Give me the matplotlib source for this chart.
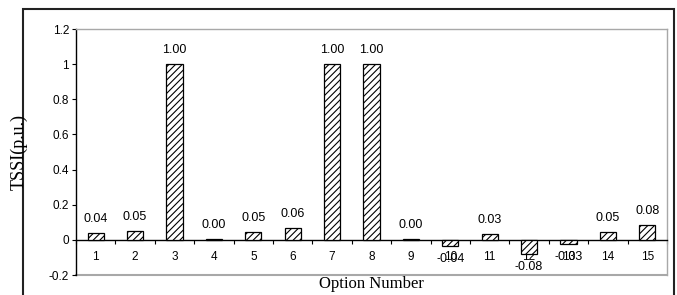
import matplotlib
matplotlib.use("Agg")
import matplotlib.pyplot as plt
from matplotlib.patches import Rectangle

options = ["1", "2", "3", "4", "5", "6", "7", "8", "9", "10", "11", "12", "13", "14", "15"]
tssi = [0.038, 0.051, 1.00, 0.004, 0.045, 0.066, 1.00, 1.00, 0.003, -0.036, 0.034, -0.081, -0.025, 0.045, 0.084]
value_labels = ["0.04", "0.05", "1.00", "0.00", "0.05", "0.06", "1.00", "1.00", "0.00", "-0.04", "0.03", "-0.08", "-0.03", "0.05", "0.08"]
yticks = [-0.2, 0, 0.2, 0.4, 0.6, 0.8, 1.0, 1.2]
ytick_labels = ["-0.2", "0", "0.2", "0.4", "0.6", "0.8", "1", "1.2"]

plt.rcParams['hatch.linewidth'] = 0.8
plt.rcParams['hatch.color'] = '#333333'
sans = ['Liberation Sans', 'DejaVu Sans']
serif = ['Liberation Serif', 'DejaVu Serif']

fig = plt.figure(figsize=(6.77, 2.95), dpi=100)
ax = fig.add_axes([76/677, 20/295, (667-76)/677, (275-29)/295])

x = list(range(1, len(options) + 1))
ax.bar(x, tssi, width=0.41, color='white', edgecolor='black', hatch='/////', linewidth=0.9, zorder=3)

for xi, v, lab in zip(x, tssi, value_labels):
    if v >= 0:
        ax.annotate(lab, (xi, v), xytext=(0, 6), textcoords='offset points',
                    ha='center', va='bottom', fontsize=9, family=sans)
    else:
        ax.annotate(lab, (xi, v), xytext=(0, -5), textcoords='offset points',
                    ha='center', va='top', fontsize=9, family=sans)

ax.set_xlim(0.5, len(options) + 0.5)
ax.set_ylim(-0.2, 1.2)
ax.set_yticks(yticks)
ax.set_yticklabels(ytick_labels, family=sans, fontsize=8.5)
ax.tick_params(axis='y', direction='out', length=3, width=0.8, pad=2)

# x axis at zero
ax.spines['bottom'].set_position(('data', 0))
ax.spines['bottom'].set_linewidth(1.0)
ax.spines['left'].set_linewidth(1.0)
ax.set_xticks([i + 0.5 for i in range(0, len(options) + 1)])
ax.set_xticklabels([])
ax.tick_params(axis='x', which='major', direction='out', length=3, width=0.8)
ax.set_xticks(x, minor=True)
ax.set_xticklabels(options, minor=True, family=sans, fontsize=8.5)
ax.tick_params(axis='x', which='minor', length=0, pad=8)

gray = '#a8a8a8'
for s in ['top', 'right']:
    ax.spines[s].set_color(gray)
    ax.spines[s].set_linewidth(1.0)
ax.axhline(-0.2, color=gray, linewidth=1.5, clip_on=False, zorder=1)

ax.text(0.5, -0.005, "Option Number", transform=ax.transAxes, ha='center', va='top',
        fontsize=12, family=serif)
fig.text(19/677, 1 - 152/295, "TSSI(p.u.)", rotation=90, ha='center', va='center',
         fontsize=13, family=serif)

# outer frame
fig.patches.append(Rectangle((23/677, -0.05), (674-23)/677, 1.05 - 9/295, transform=fig.transFigure,
                             fill=False, edgecolor='#222222', linewidth=1.5))

fig.savefig("out.png", dpi=100)
